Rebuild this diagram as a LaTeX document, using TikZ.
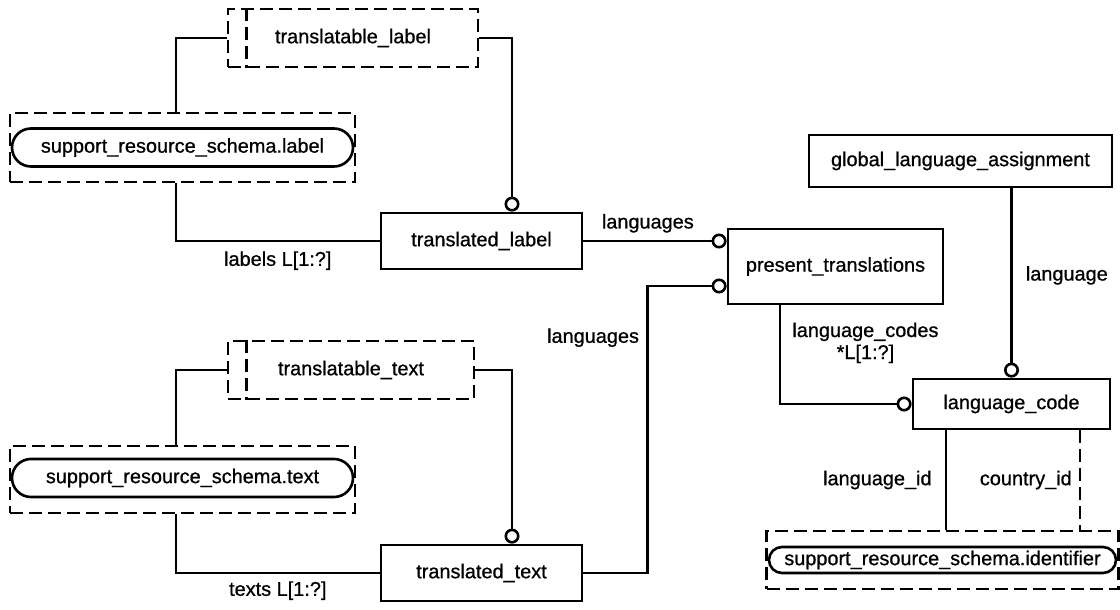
\documentclass[tikz,border=0pt]{standalone}
\usepackage{fontspec}
\setmainfont{Liberation Sans}[FakeBold=0.8]
\usetikzlibrary{arrows.meta}
\tikzset{ent/.style = {draw, rectangle, inner sep = 0, line width = 2.8pt}}
\tikzset{extent/.style = {draw, dashed, rectangle, inner sep = 0, line width = 2.6pt, dash pattern = on 13pt off 6pt}}
\tikzset{typ/.style = {draw, rectangle, rounded corners = 13pt, inner sep = 0, line width = 2.6pt}}
\tikzset{lbl/.style = {inner sep = 0}}
\tikzset{-circ/.style = {-{Circle[open, length = 15pt, width = 15pt, line width = 2.6pt]}}}

\begin{document}
\begin{tikzpicture}[x=1pt, y=-1pt, line width=2.8pt, font=\fontsize{19.9}{22}\selectfont]
\useasboundingbox (0,0) rectangle (1120,610);
% label branch
\node[extent, minimum width = 250, minimum height = 58] (tlab) at (353,38) {translatable\_label};
\draw[extent] ([xshift=20pt]tlab.north west) -- ([xshift=20pt]tlab.south west);
\node[typ, minimum width = 341, minimum height = 38, rounded corners = 19pt] (lab) at (182.5,147.5) {support\_resource\_schema.label};
\node[extent, minimum width = 345, minimum height = 69] (labx) at (182.5,147.5) {};
\node[ent, minimum width = 201, minimum height = 56] (tlabel) at (481.5,241) {translated\_label};
% text branch
\node[extent, minimum width = 246, minimum height = 58] (ttxt) at (351,370) {translatable\_text};
\draw[extent] ([xshift=20pt]ttxt.north west) -- ([xshift=20pt]ttxt.south west);
\node[typ, minimum width = 341, minimum height = 38, rounded corners = 19pt] (txt) at (182.5,478) {support\_resource\_schema.text};
\node[extent, minimum width = 345, minimum height = 67] (txtx) at (182.5,479.5) {};
\node[ent, minimum width = 201, minimum height = 56] (ttext) at (481.5,573) {translated\_text};
% right side
\node[ent, minimum width = 215, minimum height = 75] (pres) at (835.5,266.5) {present\_translations};
\node[ent, minimum width = 303, minimum height = 52] (gla) at (960.5,161) {global\_language\_assignment};
\node[ent, minimum width = 197, minimum height = 50] (lcode) at (1011.5,404) {language\_code};
\node[typ, minimum width = 347, minimum height = 26] (ident) at (942.5,560) {support\_resource\_schema.identifier};
\node[extent, minimum width = 352, minimum height = 58] (identx) at (942.5,560) {};

\draw (tlab.west) -| ([xshift=-6.5pt]labx.north);
\draw ([xshift=-6.5pt]labx.south) |- (tlabel.west) node[lbl, pos = 0.75, below = 9pt] {labels L[1:?]};
\draw[-circ] (tlab.east) -| ([xshift=30.5pt]tlabel.north);
\draw[-circ] (tlabel.east) -- (tlabel.east -| pres.west) node[lbl, pos = 0.45, above = 7pt] {languages};

\draw (ttxt.west) -| ([xshift=-6.5pt]txtx.north);
\draw ([xshift=-6.5pt]txtx.south) |- (ttext.west) node[lbl, pos = 0.75, below = 7pt] {texts L[1:?]};
\draw[-circ] (ttxt.east) -| ([xshift=30.5pt]ttext.north);
\draw[-circ] (ttext.east) -- ++(64,0) |- ([yshift=-19.5pt]pres.west) node[lbl, pos = 0.41, left = 7pt] {languages};

\draw[-circ] ([xshift=-55.5pt]pres.south) |- (lcode.west) node[lbl, pos = 0.19, right = 11pt, align = center] {language\_codes\\*L[1:?]};
\draw[-circ] (gla.south -| lcode.north) -- (lcode.north) node[lbl, pos = 0.46, right = 13pt] {language};
\draw ([xshift=-65.5pt]lcode.south) -- ([xshift=-65.5pt]lcode.south |- identx.north) node[lbl, midway, left = 13pt] {language\_id};
\draw[extent] ([xshift=68.5pt]lcode.south) -- ([xshift=68.5pt]lcode.south |- identx.north) node[lbl, midway, left = 7pt, solid] {country\_id};
\end{tikzpicture}
\end{document}
